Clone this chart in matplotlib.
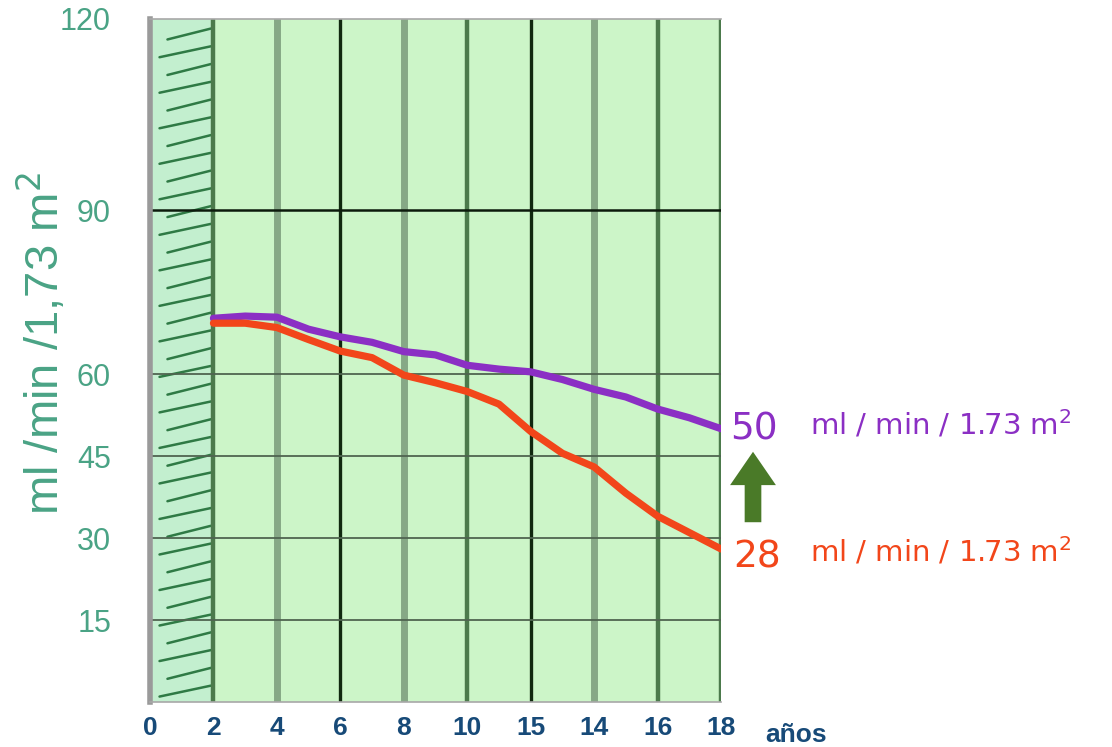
import numpy as np
import matplotlib
matplotlib.use("Agg")
import matplotlib.pyplot as plt
from matplotlib.scale import FuncScale

# Age positions (years) and filtration rate curves
ages = [2, 3, 4, 5, 6, 7, 8, 9, 10, 11, 12, 13, 14, 15, 16, 17, 18]
gfr_upper = [70.2, 70.6, 70.4, 68.2, 66.8, 65.8, 64.1, 63.5, 61.6, 60.9, 60.4,
             59.0, 57.2, 55.8, 53.6, 52.0, 50.0]
gfr_lower = [69.3, 69.3, 68.5, 66.3, 64.2, 63.0, 59.8, 58.4, 56.8, 54.5, 49.5,
             45.5, 43.0, 38.2, 34.0, 31.0, 28.0]

x_ticks = [0, 2, 4, 6, 8, 10, 12, 14, 16, 18]
x_labels = ["0", "2", "4", "6", "8", "10", "15", "14", "16", "18"]
y_ticks = [15, 30, 45, 60, 90, 120]
y_labels = ["15", "30", "45", "60", "90", "120"]

upper_label = ("50", "ml / min / 1.73 m$^2$")
lower_label = ("28", "ml / min / 1.73 m$^2$")

PURPLE = "#8b2fc4"
ORANGE = "#f2461a"
TEAL = "#4aa385"
NAVY = "#174a78"
BG = "#ccf5c8"

fig = plt.figure(figsize=(11.12, 7.47), dpi=100)
ax = fig.add_axes([0.1349, 0.0602, 0.5135, 0.9144])


def fwd(y):
    y = np.asarray(y, dtype=float)
    return np.where(y <= 90, y, 90 + (y - 90) * 1.165)


def inv(v):
    v = np.asarray(v, dtype=float)
    return np.where(v <= 90, v, 90 + (v - 90) / 1.165)


ax.set_yscale(FuncScale(ax, (fwd, inv)))
ax.set_xlim(0, 18)
ax.set_ylim(0, 120)
ax.set_facecolor(BG)

# shaded early-age band with short diagonal strokes
ax.axvspan(0, 2, color="#c3efcf", zorder=0.5, lw=0)
for i, yf in enumerate(np.arange(0.008, 0.99, 0.026)):
    x0 = 0.3 / 18 if i % 2 == 0 else 0.55 / 18
    ax.plot([x0, 1.92 / 18], [yf, yf + 0.016], transform=ax.transAxes,
            color="#2f7a45", lw=1.8, solid_capstyle="round", zorder=1)

# vertical grid
soft = [4, 8, 14]
dark = [2, 10, 16, 18]
black = [6, 12]
for xv in soft:
    ax.axvline(xv, color="#86a886", lw=5, zorder=1.2)
for xv in dark:
    ax.axvline(xv, color="#4c7a4c", lw=3.2, zorder=1.2)
for xv in black:
    ax.axvline(xv, color="#10280f", lw=2.4, zorder=1.2)

# horizontal grid
for yv in [15, 30, 45, 60]:
    ax.axhline(yv, color="#4f6450", lw=1.3, zorder=1.3)
ax.axhline(90, color="#0c1a0c", lw=1.8, zorder=1.3)

ax.plot(ages, gfr_upper, color=PURPLE, lw=5.2, solid_capstyle="round",
        solid_joinstyle="round", zorder=3)
ax.plot(ages, gfr_lower, color=ORANGE, lw=5.2, solid_capstyle="round",
        solid_joinstyle="round", zorder=3)

for side in ["top", "bottom"]:
    ax.spines[side].set_color("#a8a8a8")
    ax.spines[side].set_linewidth(1.2)
ax.spines["left"].set_color("#9a9a9a")
ax.spines["left"].set_linewidth(4)
ax.spines["right"].set_visible(False)

ax.set_xticks(x_ticks)
ax.set_xticklabels(x_labels, fontsize=19, fontweight="bold", color=NAVY,
                   family="Liberation Sans")
ax.set_yticks(y_ticks)
ax.set_yticklabels(y_labels, fontsize=22, color=TEAL, family="Liberation Sans")
ax.yaxis.set_minor_locator(matplotlib.ticker.NullLocator())
ax.tick_params(axis="both", length=0)
ax.tick_params(axis="x", pad=10)
ax.tick_params(axis="y", pad=28)

fig.text(0.688, 0.016, "años", fontsize=19, fontweight="bold", color=NAVY,
         family="Liberation Sans", ha="left", va="center")

fig.text(0.038, 0.54, "ml /min /1,73 m$^2$", rotation=90, fontsize=34,
         color=TEAL, ha="center", va="center", family="Liberation Sans")

# end-of-curve labels
fig.text(0.657, 0.425, upper_label[0], fontsize=27, color=PURPLE,
         ha="left", va="center")
fig.text(0.728, 0.432, upper_label[1], fontsize=21, color=PURPLE,
         ha="left", va="center")
fig.text(0.659, 0.254, lower_label[0], fontsize=27, color=ORANGE,
         ha="left", va="center")
fig.text(0.728, 0.262, lower_label[1], fontsize=21, color=ORANGE,
         ha="left", va="center")

ax.annotate("", xy=(753, 298), xytext=(753, 222), xycoords="figure pixels",
            textcoords="figure pixels",
            arrowprops=dict(arrowstyle="simple,head_length=0.8,head_width=1.1,tail_width=0.4",
                            mutation_scale=30, color="#4a7a28", lw=0))

fig.savefig("out.png", dpi=100, facecolor="white")
